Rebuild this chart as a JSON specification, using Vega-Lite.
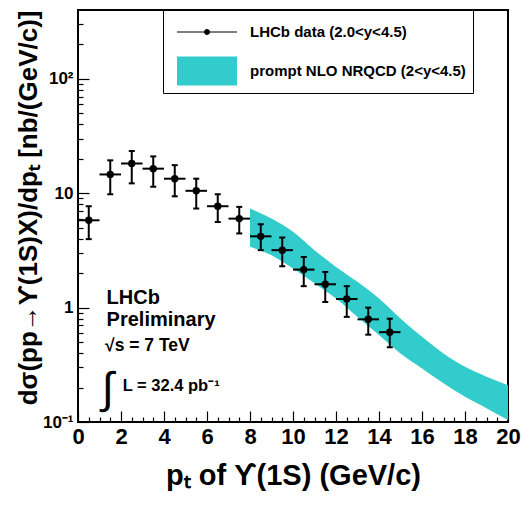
{
  "$schema": "https://vega.github.io/schema/vega-lite/v6.json",
  "width": 430,
  "height": 412,
  "autosize": {"type": "none"},
  "padding": {"left": 78, "top": 10, "right": 14, "bottom": 83},
  "background": "white",
  "config": {
    "view": {"stroke": "black", "strokeWidth": 2},
    "font": "Liberation Sans",
    "axis": {"domain": false, "grid": false, "tickColor": "black", "tickWidth": 1.2, "labelColor": "black", "titleColor": "black", "labelFlush": false, "labelOverlap": false},
    "legend": {"labelLimit": 600}
  },
  "resolve": {"axis": {"x": "independent", "y": "independent"}},
  "datasets": {
    "band": [
      {"pt": 8, "lo": 3.4, "hi": 7.35},
      {"pt": 9, "lo": 2.87, "hi": 6.0},
      {"pt": 10, "lo": 2.2, "hi": 4.6},
      {"pt": 11, "lo": 1.63, "hi": 3.18},
      {"pt": 12, "lo": 1.2, "hi": 2.27},
      {"pt": 13, "lo": 0.83, "hi": 1.68},
      {"pt": 14, "lo": 0.575, "hi": 1.2},
      {"pt": 15, "lo": 0.398, "hi": 0.805},
      {"pt": 16, "lo": 0.294, "hi": 0.556},
      {"pt": 17, "lo": 0.218, "hi": 0.398},
      {"pt": 18, "lo": 0.166, "hi": 0.304},
      {"pt": 19, "lo": 0.132, "hi": 0.249},
      {"pt": 20, "lo": 0.104, "hi": 0.21}
    ],
    "pts": [
      {"pt": 0.5, "xlo": 0, "xhi": 1, "val": 5.8, "lo": 3.97, "hi": 7.7},
      {"pt": 1.5, "xlo": 1, "xhi": 2, "val": 14.6, "lo": 9.8, "hi": 19.4},
      {"pt": 2.5, "xlo": 2, "xhi": 3, "val": 18.2, "lo": 12.2, "hi": 23.4},
      {"pt": 3.5, "xlo": 3, "xhi": 4, "val": 16.4, "lo": 11.4, "hi": 21.0},
      {"pt": 4.5, "xlo": 4, "xhi": 5, "val": 13.4, "lo": 9.4, "hi": 17.6},
      {"pt": 5.5, "xlo": 5, "xhi": 6, "val": 10.5, "lo": 7.35, "hi": 13.4},
      {"pt": 6.5, "xlo": 6, "xhi": 7, "val": 7.7, "lo": 5.6, "hi": 9.8},
      {"pt": 7.5, "xlo": 7, "xhi": 8, "val": 6.0, "lo": 4.45, "hi": 7.6},
      {"pt": 8.5, "xlo": 8, "xhi": 9, "val": 4.2, "lo": 3.18, "hi": 5.36},
      {"pt": 9.5, "xlo": 9, "xhi": 10, "val": 3.18, "lo": 2.3, "hi": 4.1},
      {"pt": 10.5, "xlo": 10, "xhi": 11, "val": 2.15, "lo": 1.54, "hi": 2.77},
      {"pt": 11.5, "xlo": 11, "xhi": 12, "val": 1.6, "lo": 1.12, "hi": 2.05},
      {"pt": 12.5, "xlo": 12, "xhi": 13, "val": 1.19, "lo": 0.83, "hi": 1.54},
      {"pt": 13.5, "xlo": 13, "xhi": 14, "val": 0.79, "lo": 0.58, "hi": 1.0},
      {"pt": 14.5, "xlo": 14, "xhi": 15, "val": 0.61, "lo": 0.45, "hi": 0.8}
    ]
  },
  "layer": [
    {
      "data": {"name": "band"},
      "mark": {"type": "area", "color": "#33CCCC", "interpolate": "monotone", "opacity": 1},
      "encoding": {
        "x": {
          "field": "pt", "type": "quantitative",
          "scale": {"domain": [0, 20], "nice": false, "zero": false},
          "axis": {
            "orient": "bottom", "offset": -11, "tickSize": 11,
            "values": [0,2,4,6,8,10,12,14,16,18,20],
            "format": "d",
            "labelFontSize": 22, "labelFontWeight": "bold", "labelPadding": 4,
            "title": "pₜ of ϒ(1S) (GeV/c)",
            "titleFontSize": 29, "titleFontWeight": "bold", "titlePadding": 14
          }
        },
        "y": {
          "field": "hi", "type": "quantitative",
          "scale": {"type": "log", "domain": [0.1, 400], "nice": false},
          "axis": {
            "orient": "left", "offset": -11, "tickSize": 11,
            "values": [0.1, 1, 10, 100],
            "labelExpr": "datum.value == 100 ? '10²' : datum.value == 10 ? '10' : datum.value == 1 ? '1' : '10⁻¹'",
            "labelFontSize": 17, "labelFontWeight": "bold", "labelPadding": 5,
            "title": "dσ(pp→ϒ(1S)X)/dpₜ [nb/(GeV/c)]",
            "titleFontSize": 26, "titleFontWeight": "bold", "titleAnchor": "end", "titlePadding": 1
          }
        },
        "y2": {"field": "lo"}
      }
    },
    {
      "data": {"name": "pts"},
      "mark": {"type": "rule", "color": "black", "strokeWidth": 2},
      "encoding": {
        "x": {
          "field": "xlo", "type": "quantitative",
          "axis": {
            "orient": "bottom", "offset": -5, "tickSize": 5, "labels": false, "title": null,
            "values": [0.5,1,1.5,2.5,3,3.5,4.5,5,5.5,6.5,7,7.5,8.5,9,9.5,10.5,11,11.5,12.5,13,13.5,14.5,15,15.5,16.5,17,17.5,18.5,19,19.5]
          }
        },
        "x2": {"field": "xhi"},
        "y": {
          "field": "val", "type": "quantitative",
          "axis": {
            "orient": "left", "offset": -5, "tickSize": 5, "labels": false, "title": null,
            "values": [0.2,0.3,0.4,0.5,0.6,0.7,0.8,0.9,2,3,4,5,6,7,8,9,20,30,40,50,60,70,80,90,200,300]
          }
        }
      }
    },
    {
      "data": {"name": "pts"},
      "mark": {"type": "rule", "color": "black", "strokeWidth": 2},
      "encoding": {
        "x": {"field": "pt", "type": "quantitative", "axis": null},
        "y": {"field": "lo", "type": "quantitative", "axis": null},
        "y2": {"field": "hi"}
      }
    },
    {
      "data": {"name": "pts"},
      "mark": {"type": "tick", "color": "black", "orient": "horizontal", "size": 6, "thickness": 2, "opacity": 1},
      "encoding": {
        "x": {"field": "pt", "type": "quantitative", "axis": null},
        "y": {"field": "lo", "type": "quantitative", "axis": null}
      }
    },
    {
      "data": {"name": "pts"},
      "mark": {"type": "tick", "color": "black", "orient": "horizontal", "size": 6, "thickness": 2, "opacity": 1},
      "encoding": {
        "x": {"field": "pt", "type": "quantitative", "axis": null},
        "y": {"field": "hi", "type": "quantitative", "axis": null}
      }
    },
    {
      "data": {"name": "pts"},
      "mark": {"type": "point", "filled": true, "color": "black", "size": 55, "opacity": 1},
      "encoding": {
        "x": {"field": "pt", "type": "quantitative", "axis": null},
        "y": {"field": "val", "type": "quantitative", "axis": null}
      }
    },
    {
      "data": {"values": [{"series": "LHCb data (2.0<y<4.5)"}, {"series": "prompt NLO NRQCD (2<y<4.5)"}]},
      "transform": [{"filter": "false"}],
      "mark": {"type": "point", "filled": true, "opacity": 1},
      "encoding": {
        "color": {
          "field": "series", "type": "nominal",
          "scale": {"domain": ["LHCb data (2.0<y<4.5)", "prompt NLO NRQCD (2<y<4.5)"], "range": ["black", "#33CCCC"]},
          "legend": {
            "orient": "none", "legendX": 85, "legendY": 0, "title": null,
            "padding": 7, "strokeColor": "black", "fillColor": "white",
            "symbolSize": 900, "symbolStrokeWidth": 0, "symbolOpacity": 1,
            "labelOffset": 50, "rowPadding": 16, "labelFontSize": 15, "labelFontWeight": "bold",
            "labelFont": "Liberation Sans", "labelLimit": 600, "labelColor": "black",
            "labelExpr": "datum.label + '\u00a0\u00a0\u00a0\u00a0\u00a0\u00a0\u00a0'"
          }
        },
        "shape": {
          "field": "series", "type": "nominal",
          "scale": {"domain": ["LHCb data (2.0<y<4.5)", "prompt NLO NRQCD (2<y<4.5)"], "range": ["M-0.533,-0.04H3.467V0.04H-0.533Z M1.267,0A0.2,0.2 0 1,1 1.667,0A0.2,0.2 0 1,1 1.267,0Z", "M-0.533,-0.967H3.467V0.967H-0.533Z"]},
          "legend": {
            "orient": "none", "legendX": 85, "legendY": 0, "title": null,
            "padding": 7, "strokeColor": "black", "fillColor": "white",
            "symbolSize": 900, "symbolStrokeWidth": 0, "symbolOpacity": 1,
            "labelOffset": 50, "rowPadding": 16, "labelFontSize": 15, "labelFontWeight": "bold",
            "labelFont": "Liberation Sans", "labelLimit": 600, "labelColor": "black",
            "labelExpr": "datum.label + '\u00a0\u00a0\u00a0\u00a0\u00a0\u00a0\u00a0'"
          }
        }
      }
    },
    {
      "data": {"values": [{"x": 1.33, "y": 1.07, "label": "LHCb"}, {"x": 1.33, "y": 0.69, "label": "Preliminary"}]},
      "mark": {"type": "text", "align": "left", "baseline": "alphabetic", "fontSize": 20, "fontWeight": "bold", "color": "black"},
      "encoding": {
        "x": {"field": "x", "type": "quantitative", "axis": null},
        "y": {"field": "y", "type": "quantitative", "axis": null},
        "text": {"field": "label"}
      }
    },
    {
      "data": {"values": [{"x": 1.26, "y": 0.417, "label": "√s = 7 TeV"}]},
      "mark": {"type": "text", "align": "left", "baseline": "alphabetic", "fontSize": 17.5, "fontWeight": "bold", "color": "black"},
      "encoding": {
        "x": {"field": "x", "type": "quantitative", "axis": null},
        "y": {"field": "y", "type": "quantitative", "axis": null},
        "text": {"field": "label"}
      }
    },
    {
      "data": {"values": [{"x": 2.08, "y": 0.187, "label": "L = 32.4 pb⁻¹"}]},
      "mark": {"type": "text", "align": "left", "baseline": "alphabetic", "fontSize": 16.5, "fontWeight": "bold", "color": "black"},
      "encoding": {
        "x": {"field": "x", "type": "quantitative", "axis": null},
        "y": {"field": "y", "type": "quantitative", "axis": null},
        "text": {"field": "label"}
      }
    },
    {
      "data": {"values": [{"x": 1.1, "y": 0.189, "label": "∫"}]},
      "mark": {"type": "text", "align": "left", "baseline": "middle", "fontSize": 44, "color": "black"},
      "encoding": {
        "x": {"field": "x", "type": "quantitative", "axis": null},
        "y": {"field": "y", "type": "quantitative", "axis": null},
        "text": {"field": "label"}
      }
    }
  ]
}
